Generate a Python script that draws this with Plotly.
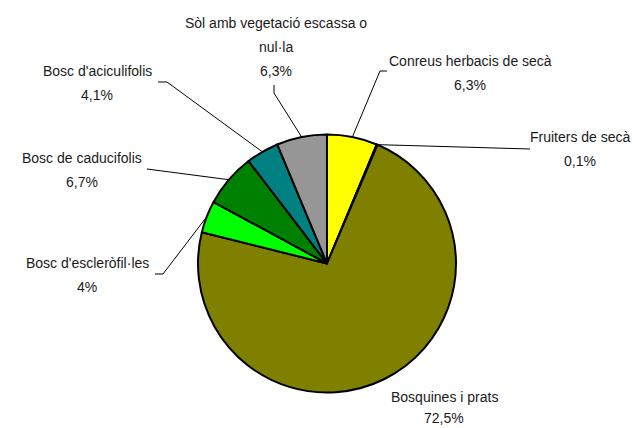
import math
import plotly.graph_objects as go

# ---- data ----
labels = [
    "Conreus herbacis de secà",
    "Fruiters de secà",
    "Bosquines i prats",
    "Bosc d'escleròfil·les",
    "Bosc de caducifolis",
    "Bosc d'aciculifolis",
    "Sòl amb vegetació escassa o nul·la",
]
values = [6.3, 0.1, 72.5, 4.0, 6.7, 4.1, 6.3]
pct_text = ["6,3%", "0,1%", "72,5%", "4%", "6,7%", "4,1%", "6,3%"]
colors = ["#FFFF00", "#FF8080", "#808000", "#00FF00", "#008000", "#008080", "#969696"]

# label text lines (how each label is broken in the picture)
label_lines = [
    ["Conreus herbacis de secà"],
    ["Fruiters de secà"],
    ["Bosquines i prats"],
    ["Bosc d'escleròfil·les"],
    ["Bosc de caducifolis"],
    ["Bosc d'aciculifolis"],
    ["Sòl amb vegetació escassa o", "nul·la"],
]

# ---- layout (pixel geometry, in window pixels) ----
OFF = 8  # default page body margin
W, H = 640 - OFF, 428 - OFF
CX, CY, R = 327, 263.5, 129

# label centres (x, y of first line) in window pixels
label_pos = [
    (470, 61),
    (580, 137),
    (444, 397),
    (87, 263),
    (82, 158),
    (97, 71),
    (276, 23),
]
LINE_H = 24
LINE_H_LAST = {2: 21}
# leader elbows (window pixel points from label side), None = no leader
leader_pts = [
    [(387, 71), (380, 71)],
    [(530, 149)],
    None,
    [(155, 274), (163, 274)],
    [(147, 169)],
    [(158, 82), (167, 82)],
    [(274, 85), (274, 93)],
]


def px(x, y):
    return (x - OFF) / W, 1 - (y - OFF) / H


cxp, cyp = CX - OFF, CY - OFF
fig = go.Figure(
    go.Pie(
        labels=labels,
        values=values,
        sort=False,
        direction="clockwise",
        rotation=0,
        marker=dict(colors=colors, line=dict(color="black", width=2)),
        textinfo="none",
        hoverinfo="skip",
        showlegend=False,
        domain=dict(
            x=[(cxp - R) / W, (cxp + R) / W],
            y=[(H - cyp - R) / H, (H - cyp + R) / H],
        ),
    )
)

annotations = []
shapes = []
total = sum(values)
cum = 0.0
font = dict(family="Liberation Sans, Arial, sans-serif", size=14, color="#1a1a1a")
for i, v in enumerate(values):
    mid = (cum + v / 2) / total * 2 * math.pi
    cum += v
    ex = CX + R * math.sin(mid)
    ey = CY - R * math.cos(mid)
    lx, ly = label_pos[i]
    lines = label_lines[i] + [pct_text[i]]
    lh = LINE_H_LAST.get(i, LINE_H)
    for k, t in enumerate(lines):
        x, y = px(lx, ly + k * lh)
        annotations.append(
            dict(x=x, y=y, xref="paper", yref="paper", text=t, showarrow=False,
                 font=font, xanchor="center", yanchor="middle")
        )
    if leader_pts[i]:
        pts = leader_pts[i] + [(ex, ey)]
        path = "M " + " L ".join(
            f"{px(a, b)[0]:.5f},{px(a, b)[1]:.5f}" for a, b in pts
        )
        shapes.append(
            dict(type="path", path=path, xref="paper", yref="paper",
                 line=dict(color="black", width=1))
        )

fig.update_layout(
    width=W,
    height=H,
    margin=dict(l=0, r=0, t=0, b=0),
    paper_bgcolor="white",
    plot_bgcolor="white",
    annotations=annotations,
    shapes=shapes,
)

fig.write_html("out.html")
